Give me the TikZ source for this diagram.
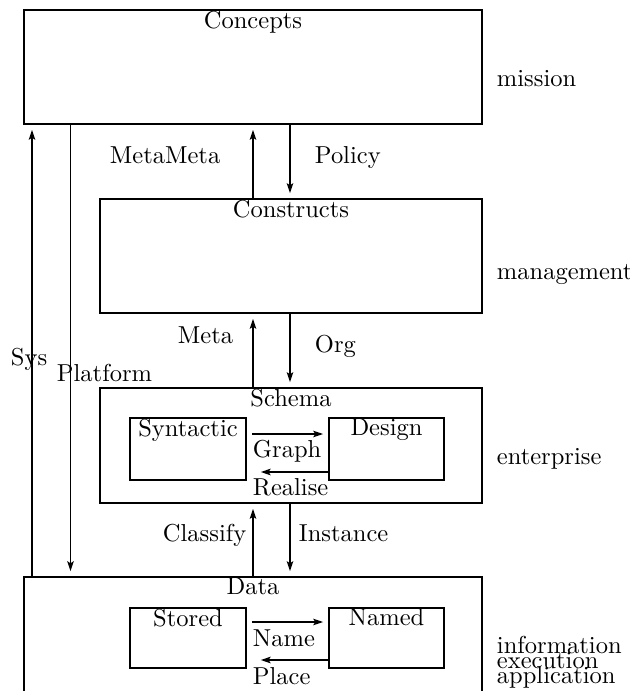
\documentclass[tikz,border=0pt]{standalone}
\usetikzlibrary{positioning}
\usetikzlibrary{fit}
\usetikzlibrary{arrows.meta}

\begin{document}
\begin{tikzpicture}[x = 0.408pt, y = -0.408pt, line width = 0.8pt,
                    box/.style = {draw, rectangle, inner sep = 0pt, outer sep = 0pt},
                    title/.style = {anchor = north, inner sep = 0pt},
                    word/.style = {anchor = base west, inner sep = 0pt},
                    arr/.style = {-{Stealth[length = 4pt, width = 2.6pt, inset = 0.8pt]}, shorten > = 2.4pt}]
                            \path[use as bounding box, clip] (0, 0) rectangle (629, 691);
                            \node[box, fit = {(24, 10) (482, 124)}] (concepts) {};
                            \node[box, fit = {(100, 199) (482, 313)}] (constructs) {};
                            \node[box, fit = {(100, 388) (482, 503)}] (schema) {};
                            \node[box, fit = {(24, 577) (482, 730)}] (data) {};
                            \node[box, fit = {(130, 418) (246, 480)}] (syntactic) {};
                            \node[box, fit = {(329, 418) (444, 480)}] (design) {};
                            \node[box, fit = {(130, 608) (246, 668)}] (stored) {};
                            \node[box, fit = {(329, 608) (444, 668)}] (named) {};
                            \node[title] (conceptsT) at (concepts.north) {Concepts};
                            \node[title] (constructsT) at (constructs.north) {Constructs};
                            \node[title] (schemaT) at (schema.north) {Schema};
                            \node[title] (dataT) at (data.north) {Data};
                            \node[title] (syntacticT) at (syntactic.north) {Syntactic};
                            \node[title] (designT) at (design.north) {Design};
                            \node[title] (storedT) at (stored.north) {Stored};
                            \node[title] (namedT) at (named.north) {Named};
                            \coordinate (sysC) at (32, 0);
                            \coordinate (platC) at (70.5, 0);
                            \coordinate (upC) at (253, 0);
                            \coordinate (downC) at (290, 0);
                            \coordinate (graphR) at (0, 434);
                            \coordinate (realiseR) at (0, 472);
                            \coordinate (nameR) at (0, 622);
                            \coordinate (placeR) at (0, 660);
                            \draw[arr] (data.north -| sysC)--(concepts.south -| sysC);
                            \draw[arr] (concepts.south -| platC)--(data.north -| platC);
                            \draw[arr] (constructs.north -| upC)--(concepts.south -| upC);
                            \draw[arr] (concepts.south -| downC)--(constructs.north -| downC);
                            \draw[arr] (schema.north -| upC)--(constructs.south -| upC);
                            \draw[arr] (constructs.south -| downC)--(schema.north -| downC);
                            \draw[arr] (data.north -| upC)--(schema.south -| upC);
                            \draw[arr] (schema.south -| downC)--(data.north -| downC);
                            \draw[arr, shorten < = 2.4pt] (syntactic.east |- graphR)--(design.west |- graphR);
                            \draw[arr, shorten > = 6pt] (design.west |- realiseR)--(syntactic.east |- realiseR);
                            \draw[arr, shorten < = 2.4pt] (stored.east |- nameR)--(named.west |- nameR);
                            \draw[arr, shorten > = 6pt] (named.west |- placeR)--(stored.east |- placeR);
                            \node[word] (missionL) at (496, 86) {mission};
                            \node[word] (managementL) at (496, 279) {management};
                            \node[word] (enterpriseL) at (496, 464) {enterprise};
                            \node[word] (informationL) at (496, 653) {information};
                            \node[word] (executionL) at (496, 668) {execution};
                            \node[word] (applicationL) at (496, 683) {application};
                            \node[word] (metametaL) at (109, 163) {MetaMeta};
                            \node[word] (policyL) at (314, 163) {Policy};
                            \node[word] (metaL) at (177, 343) {Meta};
                            \node[word] (orgL) at (314, 352) {Org};
                            \node[word] (sysL) at (10, 365) {Sys};
                            \node[word] (platformL) at (56, 381) {Platform};
                            \node[word] (graphL) at (252, 457) {Graph};
                            \node[word] (realiseL) at (252, 495) {Realise};
                            \node[word] (classifyL) at (162, 541) {Classify};
                            \node[word] (instanceL) at (298, 541) {Instance};
                            \node[word] (nameL) at (252, 646) {Name};
                            \node[word] (placeL) at (252, 684) {Place};
                        \end{tikzpicture}
\end{document}
